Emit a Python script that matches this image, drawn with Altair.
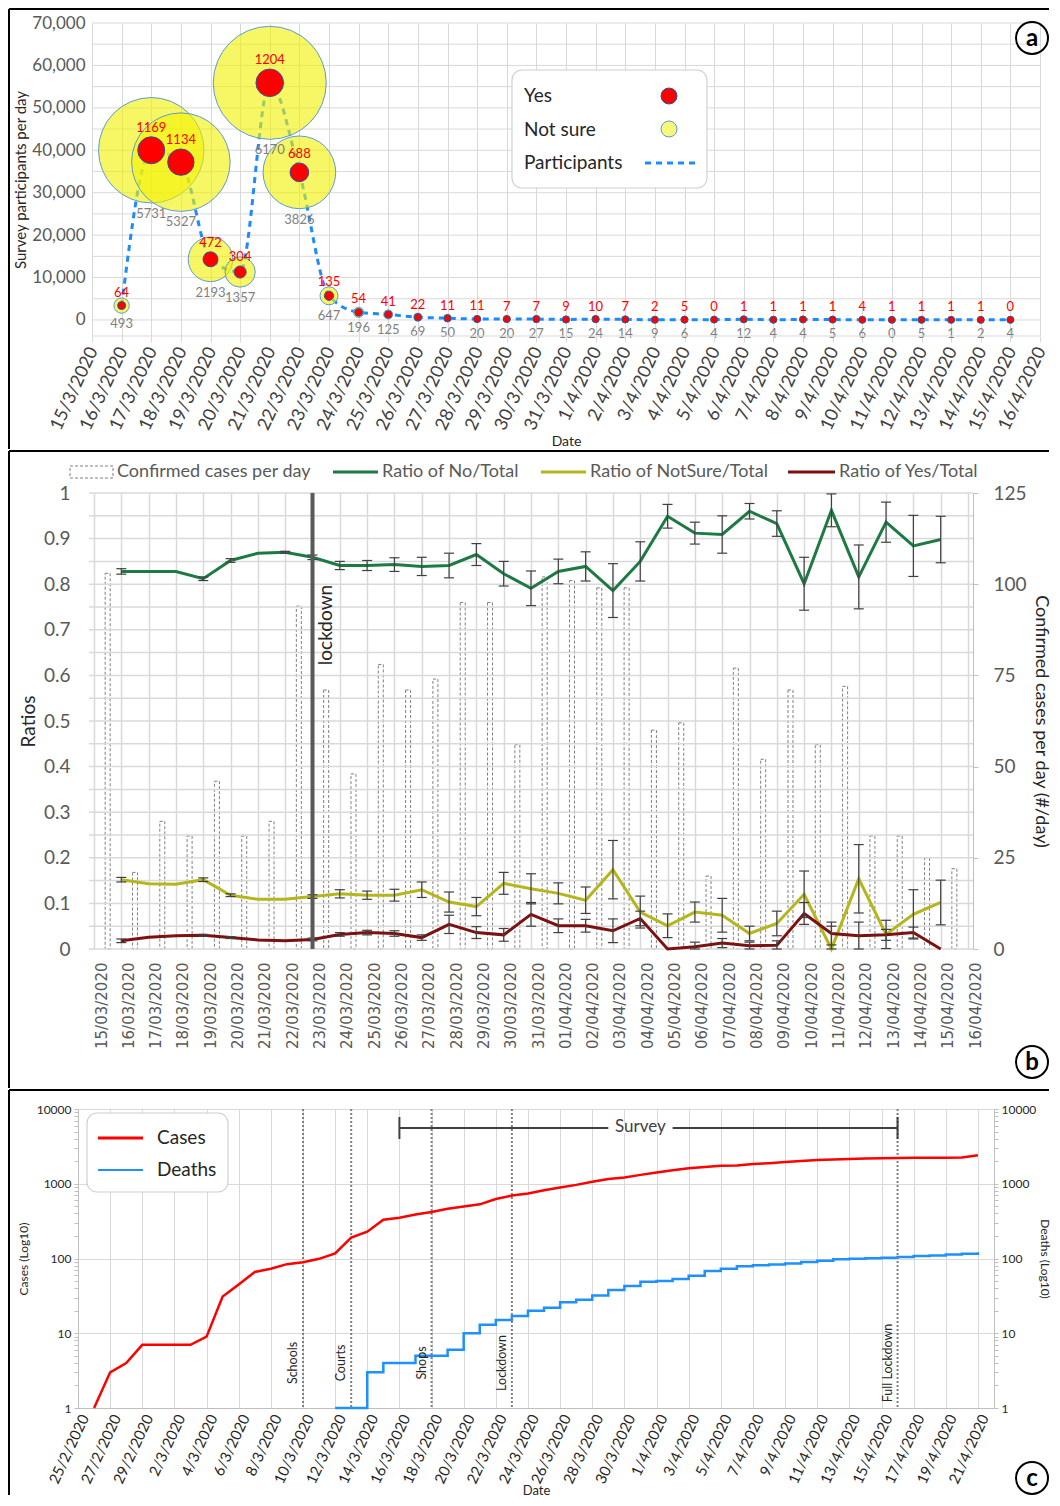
import altair as alt
import pandas as pd

FONT = "Lato"
DARK = "#262626"
MID = "#595959"
GRID = "#d9d9d9"


def ms(s):
    return int(pd.Timestamp(s, tz="UTC").value // 10**6)


def days(start, end, step=1):
    return [d.strftime("%Y-%m-%d") for d in pd.date_range(start, end, freq=f"{step}D")]


# ---------------- panel (a) data ----------------
a_dates = days("2020-03-16", "2020-04-15")
a_yes = [64, 1169, 1134, 472, 304, 1204, 688, 135, 54, 41, 22, 11, 11, 7, 7, 9,
         10, 7, 2, 5, 0, 1, 1, 1, 1, 4, 1, 1, 1, 1, 0]
a_notsure = [493, 5731, 5327, 2193, 1357, 6170, 3826, 647, 196, 125, 69, 50, 20, 20, 27, 15,
             24, 14, 9, 6, 4, 12, 4, 4, 5, 6, 0, 5, 1, 2, 4]
a_participants = [3400, 40000, 37200, 14300, 11300, 55900, 34800, 5700, 1800, 1300, 650, 420,
                  220, 210, 210, 120, 200, 135, 50, 75, 80, 150, 55, 120, 90, 50, 30, 33, 31, 27, 39]
a_ticks = days("2020-03-15", "2020-04-16")
a_grid = list(range(0, 70001, 5000))

# ---------------- panel (b) data ----------------
b_dates = days("2020-03-16", "2020-04-15")
b_no = [0.828, 0.828, 0.828, 0.812, 0.852, 0.868, 0.870, 0.859, 0.841, 0.841, 0.843, 0.839,
        0.841, 0.865, 0.823, 0.791, 0.828, 0.839, 0.786, 0.850, 0.949, 0.912, 0.909, 0.960,
        0.933, 0.801, 0.962, 0.816, 0.936, 0.884, 0.898]
b_no_err = [0.006, 0, 0, 0.004, 0.004, 0, 0.002, 0.005, 0.009, 0.011, 0.015, 0.02, 0.027,
            0.024, 0.027, 0.038, 0.027, 0.032, 0.059, 0.043, 0.026, 0.024, 0.041, 0.017,
            0.028, 0.058, 0.036, 0.07, 0.044, 0.067, 0.051]
b_notsure = [0.152, 0.143, 0.142, 0.152, 0.118, 0.109, 0.109, 0.115, 0.121, 0.118, 0.118,
             0.130, 0.103, 0.093, 0.144, 0.132, 0.122, 0.107, 0.174, 0.081, 0.051, 0.081,
             0.074, 0.034, 0.056, 0.120, 0.0, 0.154, 0.032, 0.076, 0.102]
b_notsure_err = [0.005, 0, 0, 0.004, 0.003, 0, 0, 0.004, 0.009, 0.009, 0.013, 0.017, 0.022,
                 0.02, 0.024, 0.033, 0.023, 0.029, 0.064, 0.035, 0.026, 0.022, 0.037, 0.016,
                 0.027, 0.051, 0.05, 0.075, 0.031, 0.054, 0.049]
b_yes = [0.018, 0.026, 0.029, 0.030, 0.025, 0.020, 0.018, 0.021, 0.032, 0.036, 0.034, 0.025,
         0.054, 0.036, 0.031, 0.076, 0.051, 0.051, 0.040, 0.067, 0.0, 0.005, 0.013, 0.007,
         0.008, 0.078, 0.034, 0.029, 0.031, 0.036, 0.0]
b_yes_err = [0.004, 0, 0, 0.002, 0.002, 0, 0, 0.003, 0.004, 0.005, 0.006, 0.006, 0.02, 0.013,
             0.014, 0.026, 0.015, 0.014, 0.026, 0.016, 0, 0.01, 0.01, 0.008, 0.01, 0.024,
             0.025, 0.03, 0.012, 0.012, 0]
b_case_dates = days("2020-03-15", "2020-04-15")
b_cases = [103, 21, 35, 31, 46, 31, 35, 94, 71, 48, 78, 71, 74, 95, 95, 56, 102,
           101, 99, 99, 60, 62, 20, 77, 52, 71, 56, 72, 31, 31, 25, 22]
b_ticks = days("2020-03-15", "2020-04-16")
b_grid = [round(i * 0.05, 2) for i in range(21)]
b_lockdown = ["2020-03-23"]

# ---------------- panel (c) data ----------------
c_case_dates = days("2020-02-26", "2020-04-21")
c_cases = [1, 3, 4, 7, 7, 7, 7, 9, 31, 45, 66, 73, 84, 89, 99, 117, 190, 228, 331, 352, 387,
           418, 464, 495, 530, 624, 695, 743, 821, 892, 966, 1061, 1156, 1212, 1314, 1415,
           1514, 1613, 1673, 1735, 1755, 1832, 1884, 1955, 2011, 2081, 2114, 2145, 2170,
           2192, 2207, 2224, 2235, 2235, 2245, 2401]
c_death_dates = days("2020-03-12", "2020-04-21")
c_deaths = [1, 1, 3, 4, 4, 5, 5, 6, 10, 13, 15, 17, 20, 22, 26, 28, 32, 38, 43, 49, 50, 53,
            59, 68, 73, 79, 81, 83, 86, 90, 93, 98, 99, 101, 102, 105, 108, 110, 113, 116, 121]
c_ticks = days("2020-02-25", "2020-04-21", 2)
c_events = ["Schools", "Courts", "Shops", "Lockdown", "Full Lockdown"]
c_event_dates = ["2020-03-10", "2020-03-13", "2020-03-18", "2020-03-23", "2020-04-16"]
c_survey = ["2020-03-16", "2020-04-16"]
c_survey_label_date = ["2020-03-31"]

# ---------------- helpers for decorations ----------------
ONE = pd.DataFrame({"k": [0]})


def rule(x1, x2, y1, y2, color="black", width=2.0, dash=None):
    kw = {"color": color, "strokeWidth": width}
    if dash is not None:
        kw["strokeDash"] = dash
    return alt.Chart(ONE).mark_rule(**kw).encode(
        x=alt.value(x1), x2=alt.value(x2), y=alt.value(y1), y2=alt.value(y2))


def label(text, x, y, size, color=DARK, align="left", weight="normal", font=FONT):
    return alt.Chart(pd.DataFrame({"t": [text]})).mark_text(
        align=align, baseline="middle", fontSize=size, color=color, font=font,
        fontWeight=weight).encode(x=alt.value(x), y=alt.value(y), text="t:N")


def dot(x, y, d, fill, stroke, sw=1.0):
    return alt.Chart(ONE).mark_point(
        shape="circle", size=d * d, filled=True, fill=fill, stroke=stroke,
        strokeWidth=sw, opacity=1).encode(x=alt.value(x), y=alt.value(y))


def ring_letter(letter, x, y):
    ring = alt.Chart(ONE).mark_point(
        shape="circle", size=32 * 32, filled=False, stroke="black", strokeWidth=2,
        opacity=1).encode(x=alt.value(x), y=alt.value(y))
    return [ring, label(letter, x, y + 1, 24, "black", align="center", weight="bold")]


def box(x1, x2, y1, y2):
    return alt.Chart(ONE).mark_rect(
        fill="white", stroke="#d0d0d0", strokeWidth=1.2, cornerRadius=10).encode(
        x=alt.value(x1), x2=alt.value(x2), y=alt.value(y1), y2=alt.value(y2))


def date_labels(fmt):
    return f"utcFormat(datum.value, '{fmt}')"


# All three panels share one left origin (that of panel c); panels a and b start
# their plotting range a little to the right, as in the original figure.
FRAME_X = -69

# =============== PANEL A ===============
OX_A, PW_A, H_A = 14, 948, 313
W_A = OX_A + PW_A
Y_MIN_A, Y_MAX_A = -3780, 70000
UNITS_PER_PX_A = (Y_MAX_A - Y_MIN_A) / H_A
df_a = pd.DataFrame({"date": a_dates, "yes": a_yes, "ns": a_notsure, "part": a_participants})

xa = alt.X("date:T",
           scale=alt.Scale(type="utc", domain=[ms(a_ticks[0]), ms(a_ticks[-1])],
                           range=[OX_A, W_A]),
           axis=alt.Axis(values=[ms(d) for d in a_ticks], labelExpr=date_labels("%-d/%-m/%Y"),
                         labelAngle=295, labelAlign="right", labelBaseline="top",
                         labelOffset=-7,
                         labelFont=FONT, labelFontSize=18, labelColor="#404040",
                         labelPadding=2, labelOverlap=False, labelFlush=False,
                         tickSize=6, tickColor=GRID, domain=False,
                         grid=True, gridColor=GRID,
                         title="Date", titleFont=FONT, titleFontSize=14,
                         titleFontWeight="normal", titleColor=DARK,
                         titleX=OX_A + PW_A / 2, titleY=105, titleBaseline="middle"))
a_y_scale = alt.Scale(domain=[Y_MIN_A, Y_MAX_A], nice=False, zero=False)
a_y_axis = alt.Axis(values=a_grid, offset=-OX_A,
                    labelExpr="datum.value % 10000 == 0 ? format(datum.value, ',') : ''",
                    ticks=False, domain=False, grid=False,
                    labelFont=FONT, labelFontSize=17, labelColor=MID, labelPadding=7,
                    title="Survey participants per day", titleFont=FONT,
                    titleFontSize=15, titleFontWeight="normal", titleColor=DARK,
                    titleX=-72, titleY=H_A / 2, titleAngle=270,
                    titleBaseline="middle", titleAlign="center")
size_scale = alt.Scale(type="pow", exponent=2, domain=[0, 6570], range=[0, 12769])

grid_a = alt.Chart(pd.DataFrame({"v": a_grid})).mark_rule(color=GRID, strokeWidth=1).encode(
    x=alt.value(OX_A), x2=alt.value(W_A), y=alt.Y("v:Q", scale=a_y_scale, axis=a_y_axis))

base_a = alt.Chart(df_a).transform_calculate(
    ys="datum.yes + 400",
    nss="datum.ns + 400",
    ly=f"datum.part + ((datum.yes + 400) / 6570 * 56.5 + 9) * {UNITS_PER_PX_A}",
    ln=f"datum.part - ((datum.ns + 400) / 6570 * 56.5 + 11) * {UNITS_PER_PX_A}",
)

ya = alt.Y("part:Q", scale=a_y_scale, axis=a_y_axis)
line_a = base_a.mark_line(color="#1a8cff", strokeWidth=3, strokeDash=[6, 5],
                          interpolate="monotone").encode(x=xa, y=ya)
yellow_a = base_a.mark_circle(fill="#f2f200", fillOpacity=0.6, stroke="#5b9bd5",
                              strokeWidth=1, opacity=1).encode(
    x=xa, y=ya, size=alt.Size("nss:Q", scale=size_scale, legend=None))
red_a = base_a.mark_circle(fill="#ff0000", fillOpacity=1, stroke="#2f5597",
                           strokeWidth=1, opacity=1).encode(
    x=xa, y=ya, size=alt.Size("ys:Q", scale=size_scale, legend=None))
red_lbl = base_a.mark_text(font=FONT, fontSize=13, color="#ff0000").encode(
    x=xa, y=alt.Y("ly:Q", scale=a_y_scale, axis=a_y_axis), text=alt.Text("yes:Q", format="d"))
ns_lbl = base_a.mark_text(font=FONT, fontSize=13, color="#7f7f7f").encode(
    x=xa, y=alt.Y("ln:Q", scale=a_y_scale, axis=a_y_axis), text=alt.Text("ns:Q", format="d"))

legend_a = [
    box(OX_A + 420, OX_A + 615, 47, 165),
    label("Yes", OX_A + 432, 73, 19),
    label("Not sure", OX_A + 432, 107, 19),
    label("Participants", OX_A + 432, 140, 19),
    dot(OX_A + 577, 73, 16, "#ff0000", "#2f5597"),
    dot(OX_A + 577, 106, 16, "#f7f77a", "#5b9bd5"),
    rule(OX_A + 553, OX_A + 603, 140, 140, color="#1a8cff", width=3, dash=[6, 5]),
]
frame_a = [rule(FRAME_X, 971, -14, -14), rule(FRAME_X, FRAME_X, -14, 426),
           rule(OX_A, W_A, H_A, H_A, color=GRID, width=1)]

panel_a = alt.layer(grid_a, line_a, yellow_a, red_a, red_lbl, ns_lbl, *legend_a, *frame_a,
                    *ring_letter("a", 954, 15)).properties(width=W_A, height=H_A)

# =============== PANEL B ===============
OX_B, PW_B, H_B = 11, 884, 456
W_B = OX_B + PW_B
rows = []
for name, vals, errs in [("No", b_no, b_no_err), ("NotSure", b_notsure, b_notsure_err),
                         ("Yes", b_yes, b_yes_err)]:
    for d, v, e in zip(b_dates, vals, errs):
        rows.append({"date": d, "series": name, "ratio": v, "err": e,
                     "lo": max(v - e, 0.0), "hi": v + e})
df_b = pd.DataFrame(rows)
df_bars = pd.DataFrame({"date": b_case_dates, "cases": b_cases})

xb_scale = alt.Scale(type="utc", domain=[ms(b_ticks[0]), ms(b_ticks[-1])], range=[OX_B, W_B])
xb_axis = alt.Axis(values=[ms(d) for d in b_ticks], labelExpr=date_labels("%d/%m/%Y"),
                   labelAngle=270, labelAlign="right", labelBaseline="top",
                   labelFont="DejaVu Sans", labelFontSize=15, labelColor=MID,
                   labelPadding=13, labelOverlap=False, labelFlush=False,
                   ticks=False, domain=False, grid=True, gridColor=GRID, gridWidth=1.5,
                   title=None)
yb_scale = alt.Scale(domain=[0, 1], nice=False, zero=False)
yb_axis = alt.Axis(values=b_grid, offset=-OX_B,
                   labelExpr="round(datum.value * 20) % 2 == 0 ? format(datum.value, '~g') : ''",
                   ticks=False, domain=False, grid=False,
                   labelFont=FONT, labelFontSize=19, labelColor=MID, labelPadding=19,
                   title="Ratios", titleFont=FONT, titleFontSize=19,
                   titleFontWeight="normal", titleColor=DARK,
                   titleX=-61, titleY=H_B / 2, titleAngle=270,
                   titleBaseline="middle", titleAlign="center")
yb_right_axis = alt.Axis(orient="right", values=[0, 25, 50, 75, 100, 125], grid=False,
                         tickSize=5, tickColor="#bfbfbf", domainColor="#bfbfbf",
                         labelFont=FONT, labelFontSize=19, labelColor=MID, labelPadding=15,
                         title="Confirmed cases per day (#/day)", titleFont=FONT,
                         titleFontSize=18, titleFontWeight="normal", titleColor=DARK,
                         titleX=67, titleY=H_B / 2, titleAngle=90,
                         titleBaseline="middle", titleAlign="center")

GREEN, OLIVE, MAROON = "#1d7a45", "#b5b51c", "#7b1111"
xb = alt.X("date:T", scale=xb_scale, axis=xb_axis)

grid_b = alt.Chart(pd.DataFrame({"v": b_grid})).mark_rule(color=GRID, strokeWidth=1.5).encode(
    x=alt.value(OX_B), x2=alt.value(W_B), y=alt.Y("v:Q", scale=yb_scale, axis=yb_axis))
lines_b = alt.Chart(df_b).mark_line(strokeWidth=3).encode(
    x=xb,
    y=alt.Y("ratio:Q", scale=yb_scale, axis=yb_axis),
    color=alt.Color("series:N", scale=alt.Scale(domain=["No", "NotSure", "Yes"],
                                                range=[GREEN, OLIVE, MAROON]), legend=None))
err_b = alt.Chart(df_b).transform_filter("datum.err > 0").mark_rule(
    color="#404040", strokeWidth=1.2).encode(
    x=xb, y=alt.Y("lo:Q", scale=yb_scale, axis=yb_axis), y2="hi:Q")
caps_b = alt.Chart(df_b).transform_filter("datum.err > 0").transform_fold(
    ["lo", "hi"], as_=["k", "cap"]).mark_tick(
    orient="horizontal", size=10, thickness=1.2, color="#404040", opacity=1).encode(
    x=xb, y=alt.Y("cap:Q", scale=yb_scale, axis=yb_axis))

df_lock = pd.DataFrame({"date": b_lockdown, "t": ["lockdown"]})
lock_rule = alt.Chart(df_lock).mark_rule(color=MID, strokeWidth=4).encode(
    x=xb, y=alt.value(0), y2=alt.value(H_B))
lock_text = alt.Chart(df_lock).mark_text(
    angle=270, align="center", baseline="top", dy=4, fontSize=19, font=FONT,
    color=DARK).encode(x=xb, y=alt.value(132), text="t:N")

legend_b = [
    alt.Chart(ONE).mark_rect(fill="white", fillOpacity=0, stroke="#7f7f7f", strokeWidth=1,
                             strokeDash=[3, 2]).encode(
        x=alt.value(OX_B - 19), x2=alt.value(OX_B + 24), y=alt.value(-27), y2=alt.value(-15)),
    label("Confirmed cases per day", OX_B + 28, -21, 18, MID),
    rule(OX_B + 244, OX_B + 289, -21, -21, color=GREEN, width=3),
    label("Ratio of No/Total", OX_B + 293, -21, 18, MID),
    rule(OX_B + 452, OX_B + 497, -21, -21, color=OLIVE, width=3),
    label("Ratio of NotSure/Total", OX_B + 501, -21, 18, MID),
    rule(OX_B + 699, OX_B + 746, -21, -21, color=MAROON, width=3),
    label("Ratio of Yes/Total", OX_B + 750, -21, 18, MID),
]
frame_b = [rule(FRAME_X, 971, -42, -42), rule(FRAME_X, FRAME_X, -42, 595)]

left_b = alt.layer(grid_b, lines_b, err_b, caps_b, lock_rule, lock_text, *legend_b, *frame_b,
                   *ring_letter("b", 954, 569))

bars_b = alt.Chart(df_bars).transform_calculate(
    mid="time(toDate(datum.date)) + 43200000").mark_bar(
    width=5, fill="#ffffff", fillOpacity=0, stroke="#7f7f7f", strokeWidth=1,
    strokeDash=[3, 2]).encode(
    x=alt.X("mid:T", scale=xb_scale, axis=xb_axis),
    y=alt.Y("cases:Q", scale=alt.Scale(domain=[0, 125], nice=False, zero=True),
            axis=yb_right_axis))

panel_b = alt.layer(bars_b, left_b).resolve_scale(y="independent").properties(
    width=W_B, height=H_B)

# =============== PANEL C ===============
W_C, H_C = 916, 299
df_cases = pd.DataFrame({"date": c_case_dates, "cases": c_cases})
df_deaths = pd.DataFrame({"date": c_death_dates, "deaths": c_deaths})
df_events = pd.DataFrame({"date": c_event_dates, "t": c_events})

xc_scale = alt.Scale(type="utc", domain=[ms("2020-02-25"), ms("2020-04-22")])
xc_axis = alt.Axis(values=[ms(d) for d in c_ticks], labelExpr=date_labels("%-d/%-m/%Y"),
                   labelAngle=295, labelAlign="right", labelBaseline="top",
                   labelFont=FONT, labelFontSize=15, labelColor=DARK, labelPadding=4,
                   labelOverlap=False, labelFlush=False, ticks=False,
                   domainColor="#bfbfbf", grid=True, gridColor=GRID,
                   title="Date", titleFont=FONT, titleFontSize=13, titleFontWeight="normal",
                   titleColor=DARK, titleX=W_C / 2, titleY=82, titleBaseline="middle")
xc = alt.X("date:T", scale=xc_scale, axis=xc_axis)

minor_vals = [m * 10 ** k for k in range(4) for m in range(1, 10)] + [10000]
DEC = "indexof([1, 10, 100, 1000, 10000], datum.value) >= 0"


def log_axis(orient, title, title_x, grid):
    kw = dict(orient=orient, values=minor_vals,
              labelExpr=f"{DEC} ? format(datum.value, 'd') : ''", labelOverlap=False,
              tickSize=4, tickColor="#bfbfbf", domainColor="#bfbfbf",
              labelFont=FONT, labelFontSize=12, labelColor=DARK, labelPadding=3,
              title=title, titleFont=FONT, titleFontSize=12, titleFontWeight="normal",
              titleColor=DARK, titleX=title_x, titleY=H_C / 2,
              titleAngle=270 if orient == "left" else 90,
              titleBaseline="middle", titleAlign="center")
    if grid:
        kw.update(grid=True, gridColor=GRID,
                  gridOpacity={"condition": {"test": DEC, "value": 1}, "value": 0})
    else:
        kw.update(grid=False)
    return alt.Axis(**kw)


yc_scale = alt.Scale(type="log", domain=[1, 10000], nice=False)

cases_line = alt.Chart(df_cases).mark_line(color="#ff0000", strokeWidth=2.5).encode(
    x=xc, y=alt.Y("cases:Q", scale=yc_scale, axis=log_axis("left", "Cases (Log10)", -55, True)))
deaths_line = alt.Chart(df_deaths).mark_line(
    color="#1e90ff", strokeWidth=2.5, interpolate="step-after").encode(
    x=xc, y=alt.Y("deaths:Q", scale=alt.Scale(type="log", domain=[1, 10000], nice=False),
                  axis=log_axis("right", "Deaths (Log10)", 50, False)))

ev_rules = alt.Chart(df_events).mark_rule(color="#808080", strokeWidth=2,
                                          strokeDash=[2, 2]).encode(
    x=xc, y=alt.value(0), y2=alt.value(H_C))
ev_text = alt.Chart(df_events).mark_text(
    angle=270, align="center", baseline="bottom", dy=-3, fontSize=12.5, font=FONT,
    color=DARK).encode(x=xc, y=alt.value(254), text="t:N")

df_survey = pd.DataFrame({"start": [c_survey[0]], "end": [c_survey[1]]})
df_caps = pd.DataFrame({"date": c_survey})
df_slabel = pd.DataFrame({"date": c_survey_label_date, "t": ["Survey"]})
survey_rule = alt.Chart(df_survey).mark_rule(color="#404040", strokeWidth=2).encode(
    x=alt.X("start:T", scale=xc_scale, axis=xc_axis), x2="end:T", y=alt.value(19))
survey_caps = alt.Chart(df_caps).mark_rule(color="#404040", strokeWidth=2).encode(
    x=xc, y=alt.value(8), y2=alt.value(30))
# white gap behind the "Survey" word
survey_gap = alt.Chart(df_slabel).transform_calculate(
    g0="time(toDate(datum.date)) - 2.0 * 86400000",
    g1="time(toDate(datum.date)) + 2.0 * 86400000",
).mark_rule(color="white", strokeWidth=10).encode(
    x=alt.X("g0:T", scale=xc_scale, axis=xc_axis), x2="g1:T", y=alt.value(19))
survey_txt = alt.Chart(df_slabel).mark_text(fontSize=17, font=FONT, color="#404040").encode(
    x=xc, y=alt.value(18), text="t:N")

legend_c = [
    box(9, 150, 4, 83),
    rule(20, 65, 29, 29, color="#ff0000", width=3),
    label("Cases", 79, 29, 19),
    rule(20, 65, 61, 61, color="#1e90ff", width=2),
    label("Deaths", 79, 61, 19),
]
frame_c = [rule(FRAME_X, 971, -19, -19), rule(FRAME_X, FRAME_X, -19, 386)]

left_c = alt.layer(ev_rules, ev_text, cases_line, survey_rule, survey_caps, survey_gap,
                   survey_txt, *legend_c, *frame_c, *ring_letter("c", 954, 369))
panel_c = alt.layer(deaths_line, left_c).resolve_scale(y="independent").properties(
    width=W_C, height=H_C)

# =============== LAYOUT ===============
chart = alt.vconcat(panel_a, panel_b, panel_c, spacing=0).properties(
    padding=0).configure_view(strokeWidth=0).configure_text(font=FONT)

chart.save("out.html", embed_options={"renderer": "svg", "actions": False})
